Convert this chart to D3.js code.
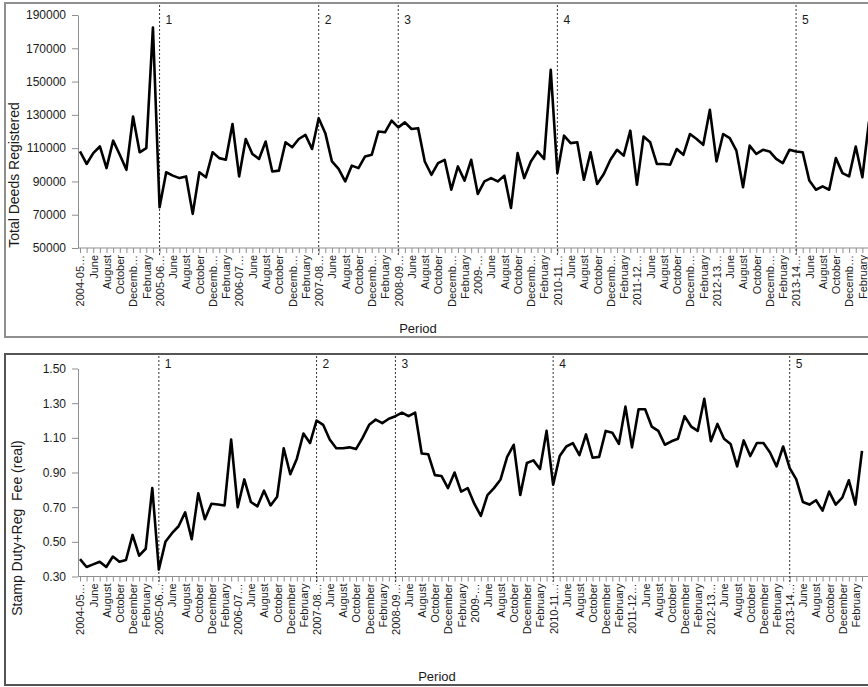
<!DOCTYPE html>
<html lang="en">
<head>
<meta charset="utf-8">
<script src="https://d3js.org/d3.v7.min.js"></script>
<style>
  body { margin: 0; background: #fff; overflow: hidden; }
  svg { display: block; font-family: "Liberation Sans", Arial, sans-serif; }
  .frame { fill: none; stroke: #8f8f8f; stroke-width: 2px; }
  .frame.dark { stroke: #555; }
  .axis path, .axis line { stroke: #8f8f8f; }
  .axis text { fill: #1a1a1a; }
  .series { fill: none; stroke: #000; stroke-width: 2.6px; stroke-linejoin: round; }
  .phase { stroke: #333; stroke-width: 1px; stroke-dasharray: 2,2; }
  .title { font-size: 14px; fill: #1a1a1a; white-space: pre; }
</style>
</head>
<body>
<script>
// monthly, April 2004 .. March 2014
var deeds = [
  108000, 100500, 107000, 111000, 98000, 114500, 106000, 97000, 129000, 107500, 110000, 182500,
  74500, 95500, 93500, 92000, 93000, 70500, 95500, 92500, 107500, 104000, 103000, 124500,
  93000, 115500, 106500, 103500, 114000, 96000, 96500, 113500, 110500, 115500, 118000, 109500,
  128000, 119000, 102000, 97500, 90000, 99500, 98000, 105000, 106000, 120000, 119500, 126500,
  122500, 125500, 121500, 122000, 102000, 94000, 101000, 103000, 85000, 99000, 90500, 103000,
  82500, 90000, 92000, 90000, 93500, 74000, 107000, 92000, 102000, 108000, 103500, 157000,
  95000, 117500, 113000, 113500, 91000, 107500, 88500, 94500, 103000, 109000, 105500, 120500,
  88000, 117000, 113500, 100500, 100500, 100000, 109500, 106000, 118500, 115500, 112000, 133000,
  102000, 118500, 116000, 108500, 86500, 111500, 106500, 109000, 108000, 103500, 101000, 109000,
  108000, 107500, 90500, 85000, 87000, 85000, 104000, 95000, 93000, 111000, 92500, 126000
];
var stampFee = [
  0.40, 0.355, 0.37, 0.385, 0.355, 0.415, 0.385, 0.395, 0.54, 0.42, 0.46, 0.81,
  0.34, 0.50, 0.55, 0.59, 0.67, 0.515, 0.78, 0.63, 0.72, 0.715, 0.71, 1.09,
  0.70, 0.86, 0.73, 0.705, 0.795, 0.71, 0.76, 1.04, 0.89, 0.98, 1.125, 1.07,
  1.20, 1.175, 1.09, 1.04, 1.04, 1.045, 1.035, 1.10, 1.175, 1.205, 1.185, 1.21,
  1.225, 1.245, 1.225, 1.245, 1.01, 1.005, 0.885, 0.88, 0.81, 0.90, 0.79, 0.81,
  0.72, 0.65, 0.77, 0.81, 0.86, 0.99, 1.06, 0.77, 0.955, 0.97, 0.92, 1.14,
  0.83, 0.995, 1.05, 1.07, 1.00, 1.12, 0.985, 0.99, 1.14, 1.13, 1.065, 1.28,
  1.045, 1.265, 1.265, 1.165, 1.14, 1.06, 1.08, 1.095, 1.225, 1.165, 1.14, 1.325,
  1.08, 1.18, 1.095, 1.065, 0.935, 1.085, 0.995, 1.07, 1.07, 1.015, 0.935, 1.05,
  0.925, 0.86, 0.73, 0.715, 0.74, 0.68, 0.79, 0.715, 0.755, 0.855, 0.715, 1.025
];

var fiscalYears = ["2004-05\u2026", "2005-06\u2026", "2006-07\u2026", "2007-08\u2026", "2008-09\u2026",
                   "2009-\u2026", "2010-11\u2026", "2011-12\u2026", "2012-13\u2026", "2013-14\u2026"];
var monthsTop = ["June", "August", "October", "Decemb\u2026", "February"];
var monthsBottom = ["June", "August", "October", "December", "February"];

var phaseStart = [12, 36, 48, 72, 108];
var phaseNames = ["1", "2", "3", "4", "5"];

var deedTicks = [50000, 70000, 90000, 110000, 130000, 150000, 170000, 190000];
var feeTicks = [0.30, 0.50, 0.70, 0.90, 1.10, 1.30, 1.50];

var width = 868, height = 687;

var svg = d3.select("body").append("svg")
  .attr("width", width)
  .attr("height", height);

// labels sit on every second month
function makeLabels(months) {
  var out = [];
  fiscalYears.forEach(function(fy) {
    out.push(fy);
    months.forEach(function(m) { out.push(m); });
  });
  return out;
}

function drawPanel(p) {
  var g = svg.append("g");

  g.append("rect").attr("class", p.frameClass)
    .attr("x", 5).attr("y", p.frameTop)
    .attr("width", 1000).attr("height", p.frameBottom - p.frameTop);

  var x = d3.scaleLinear().domain([0, p.data.length - 1]).range([80, p.xEnd]);
  var y = d3.scaleLinear().domain(p.domain).range([p.yBottom, p.yTop]);

  var labels = makeLabels(p.months);

  var xAxis = d3.axisBottom(x)
    .tickValues(d3.range(p.data.length))
    .tickSize(5).tickSizeOuter(0)
    .tickFormat(function(i) { return i % 2 == 0 ? (labels[i / 2] || "") : ""; });

  var xg = g.append("g").attr("class", "axis")
    .attr("transform", "translate(0," + p.yBottom + ")")
    .call(xAxis);
  xg.select(".domain").attr("d", "M78,0H" + (width + 20));
  xg.selectAll("text")
    .attr("font-size", 11)
    .attr("text-anchor", "end")
    .attr("transform", "rotate(-90)")
    .attr("x", -7).attr("y", 0).attr("dy", "0.35em");

  var yAxis = d3.axisLeft(y)
    .tickValues(p.ticks)
    .tickSize(6).tickSizeOuter(0).tickPadding(6)
    .tickFormat(p.fmt);

  var yg = g.append("g").attr("class", "axis")
    .attr("transform", "translate(78,0)")
    .call(yAxis);
  yg.selectAll("text").attr("font-size", 12);

  // phase boundaries
  g.selectAll(".phase").data(phaseStart).enter().append("line")
    .attr("class", "phase")
    .attr("x1", function(d) { return x(d); })
    .attr("x2", function(d) { return x(d); })
    .attr("y1", p.frameTop + 2)
    .attr("y2", p.yBottom + 8);

  g.selectAll(".phase-name").data(phaseStart).enter().append("text")
    .attr("class", "phase-name")
    .attr("x", function(d) { return x(d) + 6; })
    .attr("y", p.phaseY)
    .attr("font-size", 12)
    .attr("fill", "#1a1a1a")
    .text(function(d, i) { return phaseNames[i]; });

  var line = d3.line()
    .x(function(d, i) { return x(i); })
    .y(function(d) { return y(d); });

  g.append("path").datum(p.data)
    .attr("class", "series")
    .attr("d", line);

  g.append("text").attr("class", "title")
    .attr("transform", "translate(" + p.titleX + "," + p.titleY + ") rotate(-90)")
    .attr("text-anchor", "middle")
    .text(p.title);

  g.append("text")
    .attr("x", p.periodX).attr("y", p.periodY)
    .attr("text-anchor", "middle")
    .attr("font-size", 13)
    .attr("fill", "#1a1a1a")
    .text("Period");
}

drawPanel({
  data: deeds, domain: [50000, 190000], ticks: deedTicks, fmt: d3.format("d"),
  months: monthsTop, yTop: 15, yBottom: 248, xEnd: 869,
  frameTop: 3, frameBottom: 337, frameClass: "frame",
  phaseY: 24, title: "Total Deeds Registered", titleX: 19, titleY: 175,
  periodX: 418, periodY: 333
});

drawPanel({
  data: stampFee, domain: [0.30, 1.50], ticks: feeTicks, fmt: d3.format(".2f"),
  months: monthsBottom, yTop: 368.5, yBottom: 576.5, xEnd: 862,
  frameTop: 354, frameBottom: 685, frameClass: "frame dark",
  phaseY: 368, title: "Stamp Duty+Reg  Fee (real)", titleX: 22, titleY: 528,
  periodX: 437, periodY: 681
});
</script>
</body>
</html>
